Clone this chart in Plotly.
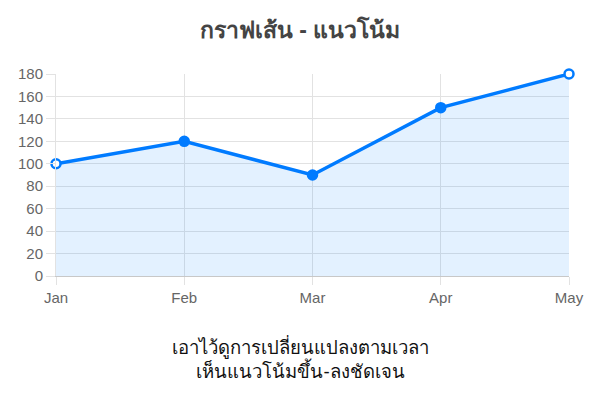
import plotly.graph_objects as go

months = ["Jan", "Feb", "Mar", "Apr", "May"]
values = [100, 120, 90, 150, 180]
y_ticks = list(range(0, 181, 20))

title_text = "กราฟเส้น - แนวโน้ม"
caption_lines = ["เอาไว้ดูการเปลี่ยนแปลงตามเวลา", "เห็นแนวโน้มขึ้น-ลงชัดเจน"]

blue = "#007bff"
marker_fill = ["white", blue, blue, blue, "white"]

# page body has an 8px margin; figure placed at (8,8)
W, H = 589, 396
L, T = 48, 66
plot_w = 561 - L
plot_h = 268 - T

fig = go.Figure()
fig.add_trace(go.Scatter(
    x=list(range(len(months))), y=values,
    mode="lines+markers",
    line=dict(color=blue, width=3.5),
    fill="tozeroy", fillcolor="rgba(0,123,255,0.11)",
    marker=dict(size=9, color=marker_fill, line=dict(color=blue, width=2.5)),
    cliponaxis=False,
    hoverinfo="skip",
))

cx_paper = (292 - L) / plot_w

fig.update_layout(
    width=W, height=H,
    margin=dict(l=L, r=W - 561, t=T, b=H - 268, autoexpand=False),
    paper_bgcolor="white", plot_bgcolor="white",
    showlegend=False,
    font=dict(family="Liberation Sans, Arial, sans-serif", color="#666", size=15),
    title=dict(text="<b>" + title_text + "</b>", x=292 / W, xanchor="center",
               y=1 - 22 / H, yanchor="middle",
               font=dict(size=23, color="#444")),
)
fig.update_xaxes(
    range=[0, len(months) - 1],
    tickvals=list(range(len(months))), ticktext=months,
    showgrid=True, gridcolor="#e2e2e2", gridwidth=1,
    showline=True, linecolor="#c8c8c8", linewidth=1,
    ticks="outside", ticklen=8, tickcolor="#e2e2e2",
    zeroline=False,
    tickfont=dict(size=15, color="#666"),
)
fig.update_yaxes(
    range=[0, 180], tickvals=y_ticks,
    showgrid=True, gridcolor="#e2e2e2", gridwidth=1,
    showline=True, linecolor="#e2e2e2", linewidth=1,
    ticks="outside", ticklen=9, tickcolor="#e2e2e2",
    zeroline=False,
    tickfont=dict(size=15, color="#666"),
)

fig.add_annotation(
    text="<br>".join(caption_lines),
    xref="paper", yref="paper", x=cx_paper, y=-(325 - 268 + 0) / plot_h,
    xanchor="center", yanchor="top", showarrow=False,
    font=dict(size=18.5, color="#111"),
)

fig.write_html("out.html")
